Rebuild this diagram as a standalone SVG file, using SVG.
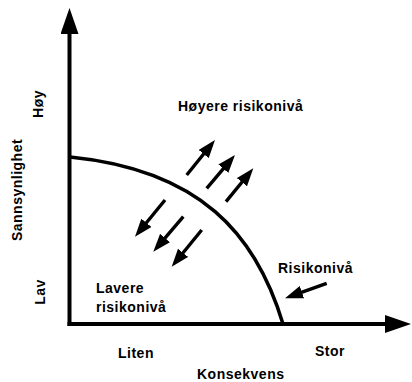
<svg xmlns="http://www.w3.org/2000/svg" width="412" height="382" viewBox="0 0 412 382">
<style>
  .t { font-family: "Liberation Sans", Arial, sans-serif; font-weight: bold; font-size: 14px; letter-spacing: 0.5px; fill: #000; }
  .ax { stroke: #000; stroke-width: 4; fill: none; }
  .cv { stroke: #000; stroke-width: 3.5; fill: none; }
  .ar { stroke: #000; stroke-width: 3.4; fill: none; marker-end: url(#head); }
</style>
<defs>
  <marker id="head" viewBox="0 0 18 13" refX="8" refY="6.5" markerWidth="18" markerHeight="13" markerUnits="userSpaceOnUse" orient="auto">
    <path d="M0,0 L18,6.5 L0,13 z" fill="#000"/>
  </marker>
  <marker id="axhead" viewBox="0 0 26 18" refX="4" refY="9" markerWidth="26" markerHeight="18" markerUnits="userSpaceOnUse" orient="auto">
    <path d="M0,0 L26,9 L0,18 z" fill="#000"/>
  </marker>
</defs>
<rect width="412" height="382" fill="#fff"/>
<g id="connectors">
  <line id="y-axis" class="ax" x1="69.5" y1="326" x2="69.5" y2="30" marker-end="url(#axhead)"/>
  <line id="x-axis" class="ax" x1="67.5" y1="324" x2="389" y2="324" marker-end="url(#axhead)"/>
  <path id="risk-curve" class="cv" d="M70,157 C200,170 256,234 283,324"/>
  <line class="ar" x1="186.7" y1="175" x2="208.7" y2="147.8"/>
  <line class="ar" x1="206.7" y1="188.3" x2="228.5" y2="162.6"/>
  <line class="ar" x1="226" y1="201.7" x2="247" y2="176"/>
  <line class="ar" x1="165" y1="200" x2="141.3" y2="229"/>
  <line class="ar" x1="183.3" y1="216.7" x2="159.8" y2="244.1"/>
  <line class="ar" x1="201.7" y1="230" x2="178" y2="259"/>
  <line class="ar" x1="326.7" y1="283.3" x2="294.4" y2="294.9"/>
</g>
<g id="label-hoyere"><text class="t" x="178" y="111">Høyere risikonivå</text></g>
<g id="label-risikoniva"><text class="t" x="278" y="273">Risikonivå</text></g>
<g id="label-lavere"><text class="t" x="96" y="293">Lavere</text><text class="t" x="96" y="312">risikonivå</text></g>
<g id="label-liten"><text class="t" x="118" y="358">Liten</text></g>
<g id="label-stor"><text class="t" x="315" y="356">Stor</text></g>
<g id="label-konsekvens"><text class="t" x="197" y="379">Konsekvens</text></g>
<g id="label-sannsynlighet"><text class="t" text-anchor="middle" transform="translate(22,190) rotate(-90)">Sannsynlighet</text></g>
<g id="label-hoy"><text class="t" text-anchor="middle" transform="translate(43,104) rotate(-90)">Høy</text></g>
<g id="label-lav"><text class="t" text-anchor="middle" transform="translate(45,292) rotate(-90)">Lav</text></g>
</svg>
